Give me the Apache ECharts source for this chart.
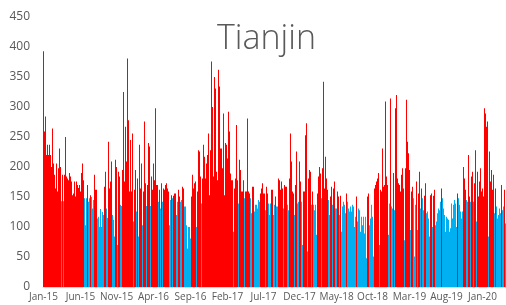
<!DOCTYPE html>
<html>
<head>
<meta charset="utf-8">
<script src="https://cdn.jsdelivr.net/npm/echarts@6/dist/echarts.min.js"></script>
<style>
  html, body { margin: 0; padding: 0; background: #fff; }
  #main { width: 506px; height: 305px; }
</style>
</head>
<body>
<div id="main"></div>
<script type="text/javascript">
    // 每根柱子约代表 4 天（与图片中一个像素列对应）
    var aqi2015a = [393,259,284,220,237,220,237,220,200,264,206,187,164,206,159,198,231,200,143,187,143,187,250,184,181,178,190,184,176,153,156,176,151,176,170,165,170,159,190,206,178,148,103,148,170,142,148,153,150,131,145,187,162,162,114,117,100,130];
    var aqi2015b = [100,125,120,167,192,131,115,242,164,176,209,120,112,84,212,200,70,192,184,137,135,195,325,176,267,209,381,278,159,245,159,256,109,162,195,126,181,84,237,164,206,103,159,276,173,135,170,240,234,135,184,162,206,178,298,170,170,142];
    var aqi2016 = [162,131,173,142,164,162,170,173,164,159,103,145,153,148,152,156,156,120,142,162,151,142,145,167,164,134,134,103,64,100,100,81,151,187,164,173,176,100,159,228,226,184,139,181,237,217,181,206,220,256,153,228,376,300,184,350,331,192];
    var aqi2017a = [178,362,334,231,231,198,289,153,240,237,214,292,259,189,178,178,92,164,181,270,178,139,212,195,159,159,178,148,159,159,281,159,156,148,123,167,167,126,137,137,131,145,142,156,164,173,156,156,128,167,156,139,120,139,162,162,120,137];
    var aqi2017b = [151,134,134,181,178,162,176,164,131,170,167,167,137,128,181,256,209,159,156,120,170,226,139,142,209,176,142,70,159,159,253,273,59,181,195,192,137,159,137,128,137,87,156,184,200,189,148,198,342,164,217,181,162,145,120,151,167,137];
    var aqi2018 = [164,176,131,131,159,151,120,152,92,134,142,137,123,156,142,131,126,134,126,137,134,100,117,151,109,131,128,92,117,103,117,89,117,48,151,156,103,114,137,117,51,164,170,176,181,190,70,162,159,231,167,170,309,184,170,87,139,314];
    var aqi2019a = [134,131,190,128,298,320,181,173,170,159,187,198,164,78,198,312,242,223,195,95,159,167,148,51,137,176,95,156,192,131,164,148,128,152,173,123,126,114,84,153,156,100,152,162,103,109,123,131,128,142,164,148,131,120,92,117,114];
    var aqi2019b = [112,92,98,139,114,137,145,139,100,156,148,137,126,114,126,200,181,162,145,142,220,151,142,184,192,142,173,228,109,192,151,176,198,159,164,151,298,289,267,276,84,226,176,195,162,187,123,164,134,114,120,131,123,170,128,134,162,106];

    var values = [].concat(aqi2015a, aqi2015b, aqi2016, aqi2017a, aqi2017b, aqi2018, aqi2019a, aqi2019b);
    var tickLabels = ['Jan-15','Jun-15','Nov-15','Apr-16','Sep-16','Feb-17','Jul-17','Dec-17','May-18','Oct-18','Mar-19','Aug-19','Jan-20'];
    var monthNames = ['Jan','Feb','Mar','Apr','May','Jun','Jul','Aug','Sep','Oct','Nov','Dec'];
    var threshold = 150;

    // 类目：每根柱子的起始日期
    var start = Date.UTC(2015, 0, 1);
    var categories = [];
    for (var i = 0; i < values.length; i++) {
        var d = new Date(start + Math.round(i * 4.16) * 86400000);
        categories.push(monthNames[d.getUTCMonth()] + '-' + String(d.getUTCFullYear()).slice(2));
    }
    // 每个刻度标签落在该月的第一根柱子上
    var labelIdx = {};
    tickLabels.forEach(function (t) {
        var k = categories.indexOf(t);
        if (k >= 0) labelIdx[k] = true;
    });
    function showTick(index) { return !!labelIdx[index]; }

    var myChart = echarts.init(document.getElementById('main'));
    var option = {
        animation: false,
        title: {
            text: 'Tianjin',
            left: 212,
            top: 17,
            textStyle: {
                fontFamily: 'Open Sans',
                fontSize: 34,
                fontWeight: 300,
                color: '#595959'
            }
        },
        grid: { left: 43, right: 0, top: 17, bottom: 18 },
        xAxis: {
            type: 'category',
            data: categories,
            axisLine: { lineStyle: { color: '#d9d9d9' } },
            axisTick: { interval: showTick, alignWithLabel: true, length: 4, lineStyle: { color: '#d9d9d9' } },
            axisLabel: {
                interval: showTick,
                margin: 5,
                fontFamily: 'Open Sans',
                fontSize: 10,
                color: '#595959'
            }
        },
        yAxis: {
            type: 'value',
            min: 0,
            max: 450,
            interval: 50,
            splitLine: { show: false },
            axisLine: { show: false },
            axisTick: { show: false },
            axisLabel: {
                margin: 13,
                fontFamily: 'Open Sans',
                fontSize: 12,
                color: '#595959'
            }
        },
        series: [
            {
                name: 'AQI',
                type: 'bar',
                data: values,
                barCategoryGap: '0%',
                itemStyle: {
                    color: function (p) { return p.value > threshold ? '#FF0000' : '#00B0F0'; }
                }
            }
        ]
    };
    myChart.setOption(option);
</script>
</body>
</html>
